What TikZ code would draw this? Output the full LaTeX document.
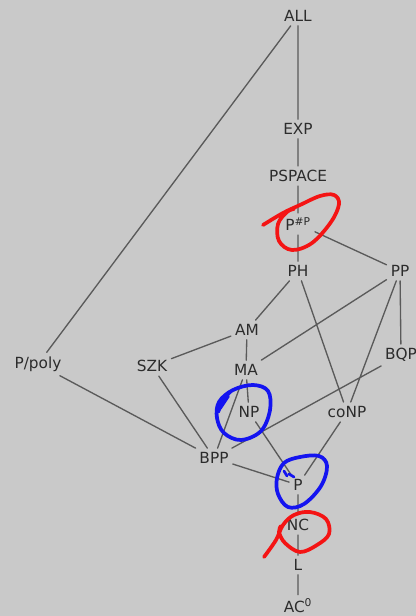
\documentclass[tikz,border=0pt]{standalone}
\usepackage{fontspec}
\setmainfont{DejaVu Sans}
\definecolor{bggray}{HTML}{C9C9C9}
\definecolor{edgegray}{HTML}{5A5A5A}
\definecolor{txtgray}{HTML}{2C2C2C}
\definecolor{penred}{HTML}{F41414}
\definecolor{penblue}{HTML}{1414F0}
\tikzset{
  cls/.style={text=txtgray, inner sep=3pt, font=\fontsize{11.5}{13}\selectfont},
  inc/.style={draw=edgegray, line width=1pt},
  pen/.style={line width=2.8pt, line cap=round, line join=round}
}
\begin{document}
\begin{tikzpicture}[x=0.75pt, y=-0.75pt, line cap = round, line join = round]
		\fill[bggray] (0,0) rectangle (416,616);
		\clip (0,0) rectangle (416,616);
		% classes
		\node[cls] (all) at (298,16) {ALL};
		\node[cls] (exp) at (298,129) {EXP};
		\node[cls] (pspace) at (298,176) {PSPACE};
		\node[cls] (psp) at (298,224) {P\textsuperscript{\#P}};
		\node[cls] (ph) at (298,271) {PH};
		\node[cls] (pp) at (400,271) {PP};
		\node[cls] (am) at (247,330) {AM};
		\node[cls] (ma) at (246,370) {MA};
		\node[cls] (szk) at (152,366) {SZK};
		\node[cls] (ppoly) at (38,364) {P/poly};
		\node[cls] (bqp) at (401,355) {BQP};
		\node[cls] (np) at (249,412) {NP};
		\node[cls] (conp) at (347,412) {coNP};
		\node[cls] (bpp) at (214,458) {BPP};
		\node[cls] (p) at (298,485) {P};
		\node[cls] (nc) at (298,525) {NC};
		\node[cls] (l) at (298,565) {L};
		\node[cls] (aczero) at (298,606) {AC\textsuperscript{0}};
		% inclusions
		\draw[inc] (all)--(exp) (all)--(ppoly) (exp)--(pspace) (pspace)--(psp)
		(psp)--(ph) (psp)--(pp) (ph)--(am) (ph)--(conp) (pp)--(ma) (pp)--(conp)
		(pp)--(bqp) (am)--(szk) (am)--(ma) (ma)--(np) (ma)--(bpp) (szk)--(bpp)
		(ppoly)--(bpp) (bqp)--(bpp) (np)--(p) (bpp)--(p) (conp)--(p)
		(p)--(nc) (nc)--(l) (l)--(aczero);
		% pen marks
		\draw[pen, penred] plot[smooth, tension=0.6] coordinates {(263,225) (283,213) (300,205) (320,196) (334,195) (339,204) (331,222) (312,243) (292,250) (279,241) (278,224) (287,212) (294,209)};
		\draw[pen, penblue] plot[smooth cycle, tension=0.6] coordinates {(219,402) (233,390) (253,385) (268,391) (270,410) (261,431) (241,440) (224,433) (217,418)};
		\draw[pen, penblue] (218,412)--(224,398)--(230,392) (220,408)--(228,396);
		\draw[pen, penblue] plot[smooth cycle, tension=0.6] coordinates {(277,478) (284,463) (300,457) (319,456) (327,466) (321,486) (304,504) (288,507) (278,494)};
		\draw[pen, penblue, line width=2pt] (284,471)--(287,476) (289,474)--(294,477);
		\draw[pen, penred] plot[smooth, tension=0.6] coordinates {(264,557) (276,540) (283,525) (294,515) (310,512) (326,519) (329,534) (317,545) (300,552) (285,543) (279,532) (281,526)};
		\end{tikzpicture}
\end{document}
